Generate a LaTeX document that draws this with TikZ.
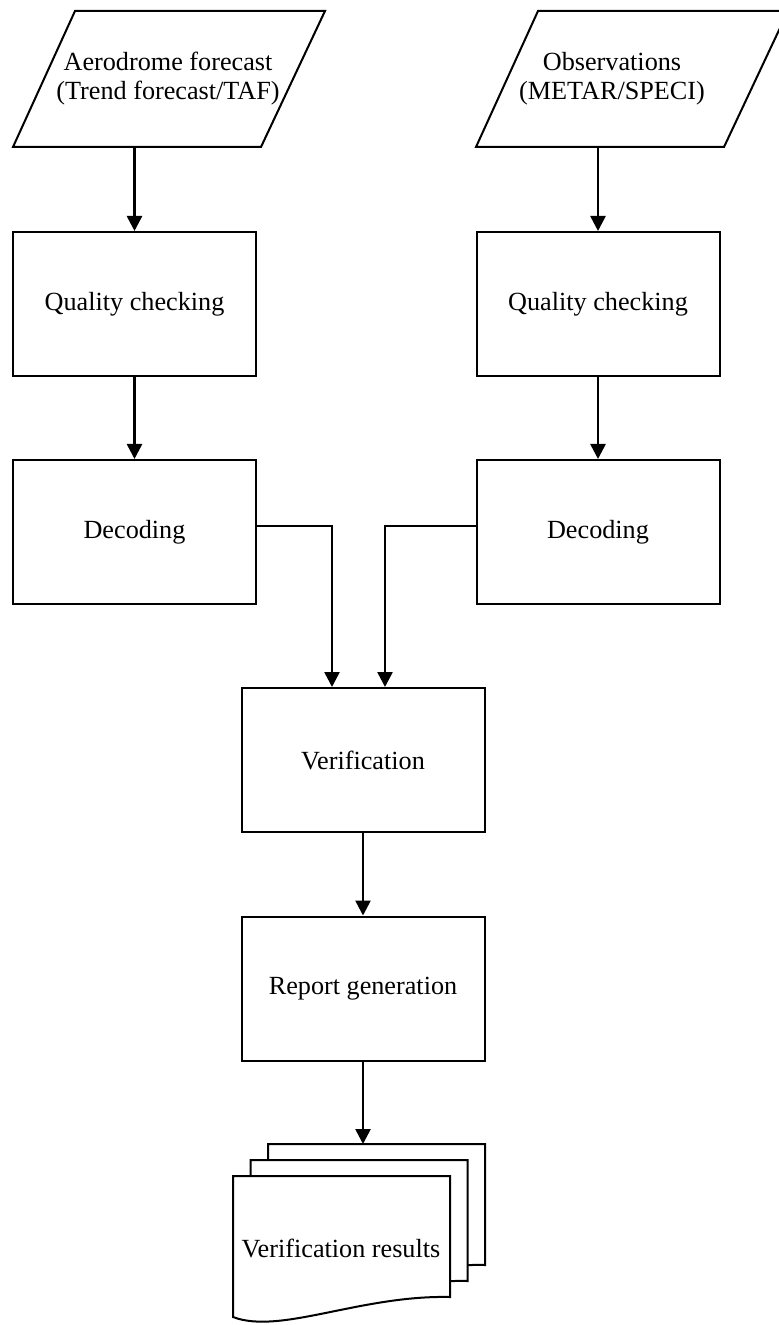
\documentclass[tikz,border=0pt]{standalone}
\usepackage{fontspec}
\setmainfont{Liberation Serif}
\usetikzlibrary{arrows.meta}

\begin{document}
\begin{tikzpicture}[x=0.5pt,y=-0.5pt,
        font=\fontsize{13.1}{14.5}\selectfont,
        box/.style={draw, line width=1pt, minimum width=121.5pt, minimum height=72pt, inner sep=0pt, align=center},
        iobox/.style={draw, line width=1pt, line join=miter},
        arr/.style={-{Triangle[width=7.5pt,length=7.5pt]}, line width=1.3pt},
        page/.style={draw, fill=white, line width=1pt}]
        \useasboundingbox (0,0) rectangle (779,1325);

        % Inputs (parallelograms)
        \draw[iobox] (75,11) -- (325,11) -- (261,147) -- (13,147) -- cycle;
        \coordinate (fcstb) at (137,147);
        \node[align=center] (fcst) at (168,79) {Aerodrome forecast\\(Trend forecast/TAF)};

        \draw[iobox] (538,11) -- (788,11) -- (724,147) -- (476,147) -- cycle;
        \coordinate (obsb) at (600,147);
        \node[align=center] (obs) at (612,79) {Observations\\(METAR/SPECI)};

        % Forecast branch
        \node[box] (qc1) at (134.5,304) {Quality checking};
        \node[box] (dec1) at (134.5,532) {Decoding};

        % Observation branch
        \node[box] (qc2) at (598,304) {Quality checking};
        \node[box] (dec2) at (598,532) {Decoding};

        % Joint steps
        \node[box] (ver) at (363,760) {Verification};
        \node[box] (rep) at (363,988.5) {Report generation};

        % Stack of result pages
        \foreach \dx/\dy in {35/-32, 17.5/-16, 0/0}
            \draw[page, shift={(\dx,\dy)}] (233,1176) -- (450,1176) -- (450,1297)
                .. controls (360,1295) and (280,1335) .. (233,1317) -- cycle;
        \coordinate (docs) at (363,1144);
        \node (res) at (341,1248) {Verification results};

        % Flow
        \draw[arr] (fcstb -| qc1.north) -- (qc1.north);
        \draw[arr] (qc1) -- (dec1);
        \draw[arr] (obsb -| qc2.north) -- (qc2.north);
        \draw[arr] (qc2) -- (dec2);
        \draw[arr] ([yshift=3pt]dec1.east) -| ([xshift=-15.5pt]ver.north);
        \draw[arr] ([yshift=3pt]dec2.west) -| ([xshift=11pt]ver.north);
        \draw[arr] (ver) -- (rep);
        \draw[arr] (rep) -- (docs);
    \end{tikzpicture}
\end{document}
